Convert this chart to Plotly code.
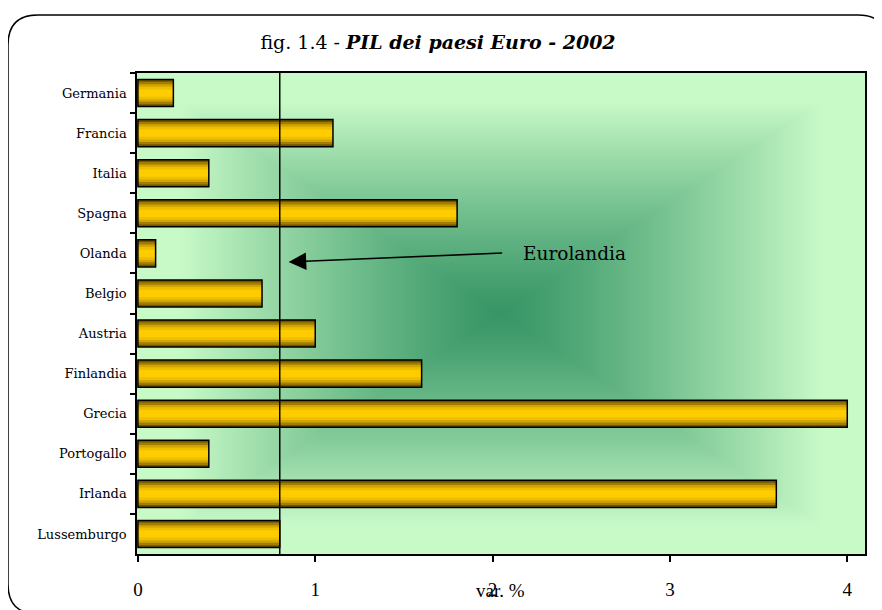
import base64, struct, zlib
import numpy as np
import plotly.graph_objects as go

# ---- data ----
paesi = ["Germania", "Francia", "Italia", "Spagna", "Olanda", "Belgio", "Austria",
         "Finlandia", "Grecia", "Portogallo", "Irlanda", "Lussemburgo"]
var_pil = [0.2, 1.1, 0.4, 1.8, 0.1, 0.7, 1.0, 1.6, 4.0, 0.4, 3.6, 0.8]
eurolandia = 0.8
x_ticks = [0, 1, 2, 3, 4]

# ---- layout geometry (screen pixels; page body has an 8px margin) ----
W, H = 882, 610
OFF = 8
PL, PR, PT, PB = 137, 865, 73, 554          # plot area on screen
L, T = PL - OFF, PT - OFF
R, B = W - (PR - OFF), H - (PB - OFF)
PW, PH = PR - PL, PB - PT


def px(x):
    return (x - PL) / PW


def py(y):
    return (PB - y) / PH


# ---- background gradient (Excel "from center" style) ----
def make_png(arr):
    h, w, _ = arr.shape
    raw = b"".join(b"\x00" + arr[i].tobytes() for i in range(h))

    def chunk(tag, data):
        c = struct.pack(">I", len(data)) + tag + data
        return c + struct.pack(">I", zlib.crc32(tag + data) & 0xFFFFFFFF)

    return (b"\x89PNG\r\n\x1a\n" + chunk(b"IHDR", struct.pack(">IIBBBBB", w, h, 8, 2, 0, 0, 0))
            + chunk(b"IDAT", zlib.compress(raw, 9)) + chunk(b"IEND", b""))


gx = np.linspace(-1, 1, PW)
gy = np.linspace(-1, 1, PH)
XX, YY = np.meshgrid(gx, gy)
t = np.maximum(np.abs(XX), np.abs(YY))
f = np.clip(t / 0.88, 0, 1) ** 1.2
center = np.array([0x38, 0x96, 0x66], float)
edge = np.array([0xc8, 0xfa, 0xc8], float)
img = (center + (edge - center) * f[..., None]).astype(np.uint8)
bg_uri = "data:image/png;base64," + base64.b64encode(make_png(img)).decode()

fig = go.Figure()

# striped gold bars (outer dark -> inner bright)
stripes = [(0.675, "#705400"), (0.56, "#a47c00"), (0.44, "#d2a600"),
           (0.32, "#eebe00"), (0.18, "#ffcc00")]
for wdt, col in stripes:
    fig.add_trace(go.Bar(x=var_pil, y=paesi, orientation="h", width=wdt,
                         marker=dict(color=col, line=dict(width=0)),
                         hoverinfo="skip", showlegend=False))
fig.add_trace(go.Bar(x=var_pil, y=paesi, orientation="h", width=0.675,
                     marker=dict(color="rgba(0,0,0,0)", line=dict(color="black", width=1.5)),
                     showlegend=False))

serif = "Liberation Serif"
wide = "DejaVu Serif"

# rounded frame
x0, y0, x1, y1, r = 8, 15, 888, 614, 30
pts = [("M", x0, y0 + r), ("Q", x0, y0, x0 + r, y0), ("L", x1 - r, y0),
       ("Q", x1, y0, x1, y0 + r), ("L", x1, y1 - r), ("Q", x1, y1, x1 - r, y1),
       ("L", x0 + r, y1), ("Q", x0, y1, x0, y1 - r)]
path = ""
for p in pts:
    cmd, coords = p[0], p[1:]
    parts = []
    for i in range(0, len(coords), 2):
        parts.append(f"{px(coords[i]):.5f},{py(coords[i + 1]):.5f}")
    path += cmd + " " + " ".join(parts) + " "
path += "Z"

fig.update_layout(
    width=W, height=H,
    margin=dict(l=L, r=R, t=T, b=B, pad=0),
    paper_bgcolor="white",
    plot_bgcolor="#c8fac8",
    barmode="overlay",
    font=dict(family=serif, color="black"),
    title=dict(text="fig. 1.4 - <b><i>PIL dei paesi Euro - 2002</i></b>",
               x=(438 - OFF) / W, xanchor="center", y=1 - (42 - OFF) / H, yanchor="middle",
               font=dict(family=wide, size=19, color="black")),
    xaxis=dict(range=[-0.005, 4.1], tickvals=x_ticks, ticks="outside", ticklen=6,
               tickwidth=1.5, tickcolor="black", showgrid=False, zeroline=False,
               showline=True, linecolor="black", linewidth=1.5, mirror=True,
               tickfont=dict(family=serif, size=19), ticklabelstandoff=11),
    yaxis=dict(autorange="reversed", ticks="outside", ticklen=5, tickwidth=1.5,
               tickcolor="black", tickson="boundaries", showgrid=False,
               showline=True, linecolor="black", linewidth=1.5, mirror=True,
               tickfont=dict(family=wide, size=13), ticklabelstandoff=6),
    images=[dict(source=bg_uri, xref="paper", yref="paper", x=0, y=1, sizex=1, sizey=1,
                 sizing="stretch", xanchor="left", yanchor="top", layer="below")],
    shapes=[
        dict(type="line", xref="x", yref="paper", x0=eurolandia, x1=eurolandia, y0=0, y1=1,
             line=dict(color="black", width=1.5), layer="above"),
        dict(type="path", xref="paper", yref="paper", path=path,
             line=dict(color="black", width=1.5), layer="above"),
    ],
    annotations=[
        dict(x=0.85, y=py(262), xref="x", yref="paper", ax=215, ay=-9, axref="pixel",
             ayref="pixel", text="", showarrow=True, arrowhead=2, arrowsize=2.2,
             arrowwidth=1.6, arrowcolor="black"),
        dict(x=px(521), y=py(253), xref="paper", yref="paper", text="Eurolandia",
             showarrow=False, xanchor="left", yanchor="middle",
             font=dict(family=wide, size=18.5, color="black")),
        dict(x=px(500), y=py(590), xref="paper", yref="paper", text="var. %",
             showarrow=False, xanchor="center", yanchor="middle",
             font=dict(family=serif, size=19, color="black")),
    ],
)

fig.write_html("out.html")
